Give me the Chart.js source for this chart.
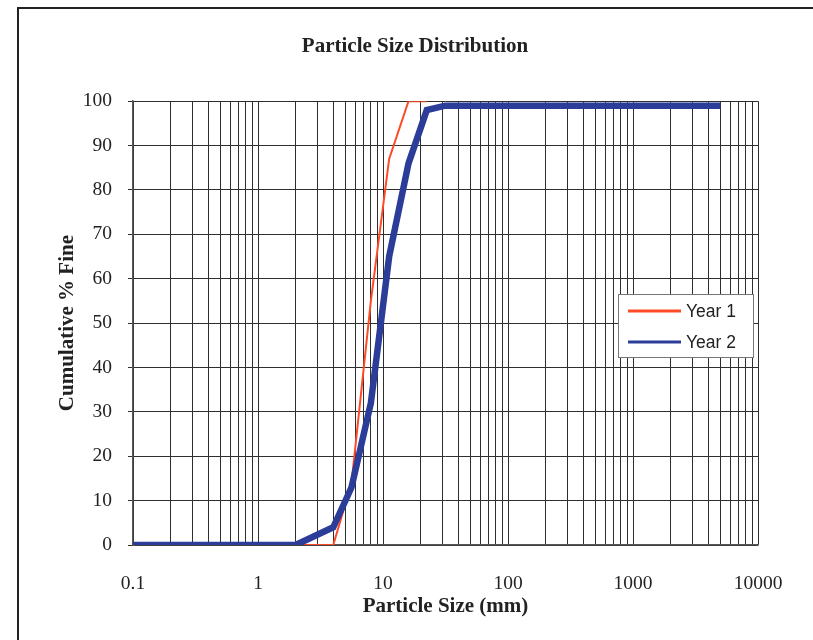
<!DOCTYPE html>
<html>
<head>
<meta charset="utf-8">
<script src="https://cdn.jsdelivr.net/npm/chart.js@4"></script>
<style>
  html, body { margin: 0; padding: 0; background: #fff; }
  #wrap { width: 813px; height: 640px; }
</style>
</head>
<body>
<div id="wrap"><canvas id="chart-psd" width="813" height="640"></canvas></div>
<script>
  // sieve sizes (mm) and cumulative % passing
  const sizes = [0.1, 1, 2, 4, 5.6, 8, 11.2, 16, 22.4, 31.5, 5000];
  const year1 = [0, 0, 0, 0, 14, 55, 87, 100, 100, null, null];
  const year2 = [0, 0, 0, 4, 13, 32, 65, 86, 98, 99, 99];
  const seriesNames = ['Year 1', 'Year 2'];
  const xTickLabels = ['0.1', '1', '10', '100', '1000', '10000'];

  const serif = "'Liberation Serif', 'Times New Roman', serif";
  const sans = "'Liberation Sans', Arial, sans-serif";
  const gridColor = '#2e2e2e';

  function toPoints(vals) {
    return sizes.map((x, i) => ({ x: x, y: vals[i] }));
  }

  /* outer frame of the scanned page */
  const framePlugin = {
    id: 'frame',
    beforeDraw(chart) {
      const ctx = chart.ctx;
      ctx.save();
      ctx.fillStyle = '#fff';
      ctx.fillRect(0, 0, chart.width, chart.height);
      ctx.strokeStyle = '#222';
      ctx.lineWidth = 2;
      ctx.strokeRect(18, 8, 900, 900);
      ctx.restore();
    }
  };

  /* boxed legend sitting inside the plot, right side */
  const boxLegend = {
    id: 'boxLegend',
    afterDraw(chart) {
      const ctx = chart.ctx;
      const x = 618, y = 294, w = 135, h = 63;
      ctx.save();
      ctx.fillStyle = '#fff';
      ctx.fillRect(x, y, w, h);
      ctx.strokeStyle = '#777';
      ctx.lineWidth = 1;
      ctx.strokeRect(x + 0.5, y + 0.5, w, h);
      ctx.font = '17.5px ' + sans;
      ctx.textBaseline = 'middle';
      chart.data.datasets.forEach((ds, i) => {
        const ly = y + 17 + i * 31;
        ctx.strokeStyle = ds.borderColor;
        ctx.lineWidth = 3;
        ctx.beginPath();
        ctx.moveTo(x + 10, ly);
        ctx.lineTo(x + 63, ly);
        ctx.stroke();
        ctx.fillStyle = '#222';
        ctx.fillText(ds.label, x + 68, ly + 1);
      });
      ctx.restore();
    }
  };

  new Chart(document.getElementById('chart-psd'), {
    type: 'line',
    data: {
      datasets: [
        {
          label: seriesNames[0],
          data: toPoints(year1),
          borderColor: '#ff4a26',
          borderWidth: 2,
          pointRadius: 0,
          tension: 0,
          order: 1
        },
        {
          label: seriesNames[1],
          data: toPoints(year2),
          borderColor: '#2b3c99',
          borderWidth: 6.5,
          pointRadius: 0,
          tension: 0,
          borderJoinStyle: 'miter',
          order: 0
        }
      ]
    },
    options: {
      responsive: false,
      animation: false,
      layout: { padding: { left: 72, right: 55, top: 0, bottom: 0 } },
      plugins: {
        legend: { display: false },
        tooltip: { enabled: false },
        title: {
          display: true,
          text: 'Particle Size Distribution',
          color: '#222',
          font: { family: serif, size: 21, weight: 'bold' },
          padding: { top: 34, bottom: 42 }
        }
      },
      scales: {
        x: {
          type: 'logarithmic',
          min: 0.1,
          max: 10000,
          afterBuildTicks(scale) {
            const t = [];
            for (let e = -1; e <= 3; e++) {
              for (let m = 1; m <= 9; m++) {
                t.push({ value: Number((m * Math.pow(10, e)).toPrecision(6)), major: m === 1 });
              }
            }
            t.push({ value: 10000, major: true });
            scale.ticks = t;
          },
          afterFit(scale) { scale.height = 95; },
          grid: { color: gridColor, lineWidth: 1, drawTicks: false },
          border: { color: '#555', width: 1.5 },
          ticks: {
            autoSkip: false,
            maxRotation: 0,
            padding: 27,
            color: '#222',
            font: { family: serif, size: 19.5 },
            callback(v) {
              const k = Math.log10(v);
              return Math.abs(k - Math.round(k)) < 1e-9 ? xTickLabels[Math.round(k) + 1] : '';
            }
          },
          title: {
            display: true,
            text: 'Particle Size (mm)',
            color: '#222',
            font: { family: serif, size: 21, weight: 'bold' },
            padding: { top: 0, bottom: 21 }
          }
        },
        y: {
          min: 0,
          max: 100,
          afterFit(scale) { scale.width = 61; },
          grid: { color: gridColor, lineWidth: 1, tickLength: 5 },
          border: { color: '#555', width: 1.5 },
          ticks: {
            stepSize: 10,
            padding: 16,
            color: '#222',
            font: { family: serif, size: 19.5 }
          },
          title: {
            display: true,
            text: 'Cumulative % Fine',
            color: '#222',
            font: { family: serif, size: 21, weight: 'bold' },
            padding: { top: -16.6, bottom: 0 }
          }
        }
      }
    },
    plugins: [framePlugin, boxLegend]
  });
</script>
</body>
</html>
